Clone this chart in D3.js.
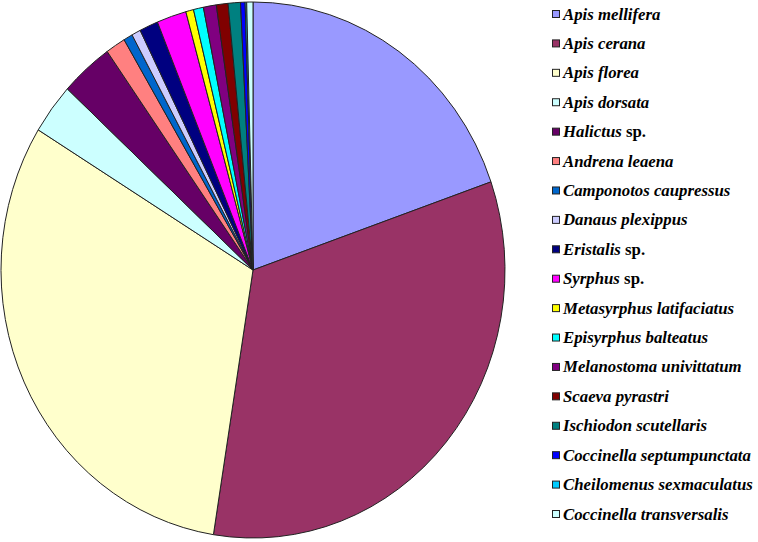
<!DOCTYPE html>
<html>
<head>
<meta charset="utf-8">
<script src="https://cdn.jsdelivr.net/npm/d3@7/dist/d3.min.js"></script>
<style>
  html, body { margin: 0; padding: 0; background: #fff; }
  svg { display: block; }
</style>
</head>
<body>
<svg id="chart" width="758" height="542"></svg>
<script>
// ---- data ----
const species = [
  "Apis mellifera", "Apis cerana", "Apis florea", "Apis dorsata", "Halictus",
  "Andrena leaena", "Camponotos caupressus", "Danaus plexippus", "Eristalis",
  "Syrphus", "Metasyrphus latifaciatus", "Episyrphus balteatus",
  "Melanostoma univittatum", "Scaeva pyrastri", "Ischiodon scutellaris",
  "Coccinella septumpunctata", "Cheilomenus sexmaculatus", "Coccinella transversalis"
];
const suffixes = ["", "", "", "", " sp.", "", "", "", " sp.", " sp.", "", "", "", "", "", "", "", ""];
const shares = [19.7, 32.9, 31.3, 3.06, 3.37, 1.28, 0.58, 0.58, 1.2, 1.9, 0.5, 0.64, 0.83, 0.75, 0.79, 0.29, 0.1, 0.4];
const colors = ["#9999FF", "#993366", "#FFFFCC", "#CCFFFF", "#660066", "#FF8080", "#0066CC", "#CCCCFF",
  "#000080", "#FF00FF", "#FFFF00", "#00FFFF", "#800080", "#800000", "#008080", "#0000FF", "#00CCFF", "#CCFFFF"];

// ---- chart ----
const svg = d3.select("#chart");
const cx = 253, cy = 270, rx = 252, ry = 268;

const pie = d3.pie().sort(null).value(d => d);
const arc = d3.arc().innerRadius(0).outerRadius(ry);
const color = d3.scaleOrdinal().domain(d3.range(species.length)).range(colors);

const g = svg.append("g")
  .attr("transform", `translate(${cx},${cy}) scale(${rx / ry},1)`);

g.selectAll("path")
  .data(pie(shares))
  .join("path")
  .attr("d", arc)
  .attr("fill", (d, i) => color(i))
  .attr("stroke", "#222")
  .attr("stroke-width", 1)
  .attr("vector-effect", "non-scaling-stroke");

// ---- legend ----
const legY = d3.scalePoint().domain(d3.range(species.length)).range([14, 514]);
const leg = svg.append("g");
const items = leg.selectAll("g")
  .data(species)
  .join("g")
  .attr("transform", (d, i) => `translate(552,${legY(i)})`);

items.append("rect")
  .attr("x", 0.5).attr("y", -3.5)
  .attr("width", 7).attr("height", 7)
  .attr("fill", (d, i) => color(i))
  .attr("stroke", "#222")
  .attr("stroke-width", 1);

const txt = items.append("text")
  .attr("x", 11)
  .attr("y", 5.5)
  .attr("font-family", "'Liberation Serif', 'Times New Roman', serif")
  .attr("font-size", 16.8)
  .attr("font-weight", "bold")
  .attr("fill", "#000");

txt.append("tspan").attr("font-style", "italic").text(d => d);
txt.append("tspan").text((d, i) => suffixes[i]);
</script>
</body>
</html>
